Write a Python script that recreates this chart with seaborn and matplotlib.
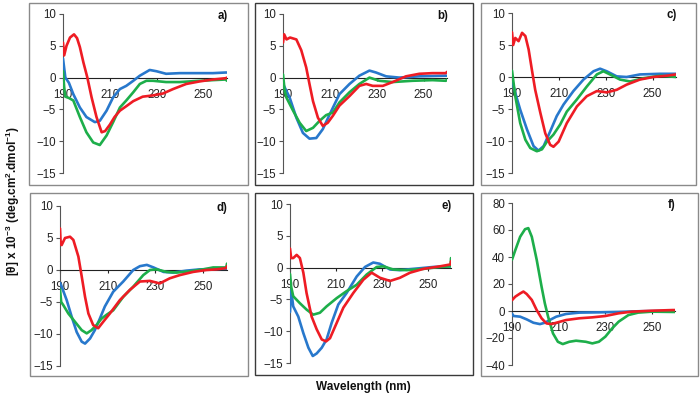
import matplotlib
matplotlib.use("Agg")
import matplotlib.pyplot as plt
import seaborn as sns
import pandas as pd
from matplotlib.patches import Rectangle

sns.set_style("white")
plt.rcParams['font.family'] = ['Liberation Sans', 'DejaVu Sans']
plt.rcParams['mathtext.fontset'] = 'custom'
plt.rcParams['mathtext.rm'] = 'Liberation Sans'
plt.rcParams['mathtext.bf'] = 'Liberation Sans:bold'

# ---------------- data ----------------
panel_labels = ["a)", "b)", "c)", "d)", "e)", "f)"]
x_ticks = [190, 210, 230, 250]
y_ticks_small = [10, 5, 0, -5, -10, -15]
y_ticks_f = [80, 60, 40, 20, 0, -20, -40]

# panel a
a_red_wl = [190, 190.5, 191.5, 193, 194.7, 196, 197.2, 198.7, 200.4, 202.2, 204.3, 206.5, 208, 210, 212, 214.3, 217, 220, 224, 228.4, 232.7, 237, 242.6, 248.3, 254, 259.4, 260]
a_red_val = [5.5, 3.5, 5.0, 6.3, 6.8, 6.2, 4.8, 2.4, 0, -3.1, -6.2, -8.6, -8.4, -7.4, -6.2, -5.2, -4.5, -3.7, -3.0, -2.8, -2.5, -1.8, -1.0, -0.6, -0.3, -0.1, 0]
a_blue_wl = [190, 191, 192.5, 194.4, 197.2, 200, 203.6, 205.7, 208.6, 211.4, 214.3, 217, 220, 222.8, 227, 229.9, 234, 239.8, 248.3, 254, 259.4, 260]
a_blue_val = [3.0, 0.0, -0.8, -2.6, -4.7, -6.2, -7.0, -6.8, -5.2, -3.1, -1.8, -1.3, -0.5, 0.3, 1.2, 1.0, 0.6, 0.7, 0.7, 0.7, 0.8, 0.8]
a_green_wl = [190, 190.5, 191, 192.5, 194.4, 197.2, 200, 202.9, 205.7, 208.6, 211.4, 214.3, 217, 220, 222.8, 225.6, 228.4, 234, 239.8, 248.3, 259.4, 260]
a_green_val = [1.0, -1.5, -3.0, -3.2, -3.6, -6.2, -8.6, -10.2, -10.6, -9.1, -7.0, -4.7, -3.6, -2.3, -1.0, -0.5, -0.5, -0.7, -0.7, -0.5, -0.3, -0.5]

# panel b
b_red_wl = [190, 190.5, 191.5, 193, 195.7, 197.8, 199.9, 201.3, 202.8, 204.9, 207, 209.1, 211.3, 214.1, 218.4, 222.6, 225.5, 228.3, 232.6, 236.8, 242.5, 248.2, 253.8, 259.5, 260]
b_red_val = [5.5, 6.8, 6.0, 6.3, 6.0, 4.3, 1.6, -1.0, -3.7, -6.3, -7.6, -7.1, -6.0, -4.4, -2.9, -1.3, -1.0, -1.3, -1.3, -0.7, 0.2, 0.6, 0.7, 0.7, 0.9]
b_blue_wl = [190, 192.8, 195.7, 198.5, 201.3, 204.2, 207, 209.9, 214.1, 218.4, 222.6, 226.9, 229.7, 234, 239.6, 248.2, 259.5, 260]
b_blue_val = [-1.0, -3.1, -6.3, -8.7, -9.6, -9.5, -8.1, -5.8, -2.6, -1.0, 0.3, 1.1, 0.8, 0.2, 0.0, 0.2, 0.3, 0.3]
b_green_wl = [190, 190.7, 191.4, 194.3, 197.1, 199.9, 202.8, 205.6, 208.4, 211.3, 214.1, 218.4, 222.6, 226.9, 231.1, 236.8, 245.3, 253.8, 259.5, 260]
b_green_val = [0.5, -2.0, -3.1, -5.2, -7.1, -8.4, -7.9, -6.8, -5.9, -5.5, -3.9, -2.3, -1.0, 0.0, -0.5, -0.7, -0.5, -0.4, -0.5, -0.3]

# panel c
c_red_wl = [190, 190.5, 191.4, 192.8, 194.3, 195.7, 197.1, 198.5, 199.9, 202.1, 204.2, 206.3, 207.7, 209.9, 213.4, 217.7, 221.9, 226.2, 230.4, 234.7, 238.9, 244.6, 250.3, 256, 260]
c_red_val = [7.0, 5.0, 6.1, 5.6, 6.9, 6.4, 4.3, 1.1, -2.0, -5.6, -8.8, -10.6, -10.9, -10.1, -7.2, -4.6, -3.0, -2.2, -2.4, -2.0, -1.2, -0.4, 0.0, 0.2, 0.4]
c_blue_wl = [190, 191.4, 193.5, 196.4, 199.2, 201.3, 203.5, 206.3, 209.1, 212, 216.2, 220.5, 224.8, 227.6, 230.4, 234.7, 238.9, 244.6, 253.1, 260]
c_blue_val = [-0.5, -2.5, -5.1, -8.2, -10.8, -11.5, -10.8, -8.5, -6.1, -4.3, -2.2, -0.4, 0.9, 1.3, 0.9, 0.1, 0.0, 0.4, 0.5, 0.5]
c_green_wl = [190, 191.4, 193.5, 195.7, 197.8, 200.6, 202.8, 204.9, 207.7, 210.6, 213.4, 217.7, 221.9, 226.2, 229, 231.8, 236.1, 240.4, 246, 253.1, 260]
c_green_val = [1.0, -3.0, -7.2, -9.8, -11.1, -11.6, -11.3, -10.1, -9.0, -7.4, -5.4, -3.5, -1.5, 0.4, 0.9, 0.4, -0.4, -0.7, -0.2, 0.2, 0.0]

# panel d
d_red_wl = [190, 190.3, 190.7, 192.1, 194.2, 195.6, 197.7, 199.1, 200.5, 201.9, 203.9, 206, 208.1, 210.9, 215.1, 219.3, 223.5, 227.7, 231.8, 236, 240.2, 245.8, 251.4, 255.6, 259.7, 260]
d_red_val = [6.5, 4.0, 3.9, 5.0, 5.2, 4.7, 2.1, -1.0, -4.2, -6.8, -8.6, -9.1, -8.1, -6.8, -4.7, -3.1, -1.8, -1.7, -2.1, -1.3, -0.8, -0.3, 0.0, 0.1, 0.3, 0.6]
d_blue_wl = [190, 190.7, 192.8, 194.9, 197, 199.1, 200.5, 202.6, 204.6, 206.7, 208.8, 212.3, 216.5, 220.7, 223.5, 226.4, 229.2, 233.4, 237.4, 243, 248.6, 259.7, 260]
d_blue_val = [-2.0, -2.6, -4.7, -7.3, -9.7, -11.2, -11.5, -10.7, -9.4, -7.6, -5.7, -3.4, -1.8, 0.0, 0.6, 0.8, 0.4, -0.3, -0.4, -0.1, 0.1, 0.2, 0.2]
d_green_wl = [190, 190.5, 191.4, 193.5, 196.3, 199.1, 201.2, 203.2, 205.3, 207.4, 209.5, 212.3, 216.5, 220.7, 224.9, 227.7, 230.5, 234.7, 238.8, 244.4, 250, 254.2, 259.7, 260]
d_green_val = [-3.0, -5.0, -5.5, -6.8, -8.1, -9.4, -9.9, -9.4, -8.6, -7.6, -7.0, -6.3, -4.2, -2.6, -0.8, 0.0, 0.1, -0.3, -0.4, -0.2, 0.1, 0.4, 0.4, 1.0]

# panel e
e_red_wl = [190, 190.5, 191.4, 192.9, 194.3, 195.8, 197.2, 199.4, 201.6, 203.8, 205.7, 207.4, 210.3, 213.2, 217.5, 221.9, 225.5, 229.1, 233.5, 237.8, 242.2, 248, 255.2, 259.8, 260]
e_red_val = [3.0, 1.5, 1.5, 2.0, 1.5, -0.8, -4.0, -7.7, -9.7, -11.3, -11.6, -11.1, -8.7, -6.3, -4.0, -1.9, -0.8, -1.6, -2.1, -1.6, -0.8, -0.2, 0.2, 0.5, 1.0]
e_blue_wl = [190, 190.5, 191.4, 193.6, 195.8, 198, 199.9, 201.6, 203.8, 205.9, 208.1, 211, 214.6, 219, 222.6, 226.2, 229.1, 233.5, 237.8, 243.6, 252.3, 260]
e_blue_val = [-7.0, -3.5, -6.1, -7.7, -10.3, -12.6, -13.9, -13.5, -12.6, -11.3, -8.7, -5.8, -4.0, -1.4, 0.1, 0.8, 0.6, -0.3, -0.4, -0.2, 0.1, 0.2]
e_green_wl = [190, 190.5, 191.4, 194.3, 197.2, 200.1, 203, 205.9, 210.3, 214.6, 219, 223.3, 227.7, 230.6, 234.9, 240.7, 248, 255.2, 259.8, 260]
e_green_val = [-1.0, -3.0, -4.5, -5.6, -6.6, -7.4, -7.1, -6.1, -4.8, -3.7, -2.7, -1.1, 0.1, 0.2, -0.3, -0.4, -0.2, 0.1, 0.2, 1.5]

# panel f
f_red_wl = [190, 191.4, 193.5, 194.9, 196.3, 198.5, 200.6, 202.7, 204.8, 207, 209, 213.2, 218.9, 224.5, 230.1, 235.8, 241.4, 249.9, 259, 260]
f_red_val = [8.0, 10.6, 13.0, 14.4, 12.6, 8.2, 0.7, -5.4, -9.2, -9.7, -8.7, -6.7, -5.4, -4.7, -3.7, -1.7, -0.5, 0.2, 0.7, 0.7]
f_blue_wl = [190, 190.7, 193.5, 196.3, 199.2, 202, 204.1, 206.2, 209, 213.2, 218.9, 227.3, 235.8, 244.2, 252.7, 260]
f_blue_val = [-2.0, -3.7, -4.2, -6.2, -8.7, -9.7, -8.7, -6.7, -4.2, -2.2, -1.2, -1.0, -0.7, -0.2, 0.0, 0.0]
f_green_wl = [190, 191.4, 193.5, 195.6, 197, 198.5, 200.6, 202.7, 204.1, 205.5, 207.6, 209.7, 211.8, 214.6, 217.5, 221.7, 224.5, 227.3, 230.1, 233, 235.8, 240, 244.2, 249.9, 259, 260]
f_green_val = [38, 45, 55, 60.6, 61.4, 55, 38, 18, 5.7, -4.2, -16.6, -22.8, -24.5, -22.8, -22.0, -22.8, -24.0, -22.8, -19.0, -12.9, -7.9, -3.0, -1.2, -0.5, -0.7, -0.7]

series_data = [
    (a_blue_wl, a_blue_val, a_green_wl, a_green_val, a_red_wl, a_red_val),
    (b_blue_wl, b_blue_val, b_green_wl, b_green_val, b_red_wl, b_red_val),
    (c_blue_wl, c_blue_val, c_green_wl, c_green_val, c_red_wl, c_red_val),
    (d_blue_wl, d_blue_val, d_green_wl, d_green_val, d_red_wl, d_red_val),
    (e_blue_wl, e_blue_val, e_green_wl, e_green_val, e_red_wl, e_red_val),
    (f_blue_wl, f_blue_val, f_green_wl, f_green_val, f_red_wl, f_red_val),
]

# ---------------- layout (pixels, top-left origin) ----------------
W, H = 700, 401
# plot areas: (x_left, x_right, y_top_px, y_bottom_px)
plot_px = [
    (63, 227, 14, 173),
    (283, 447, 14, 173),
    (512, 676, 13, 173),
    (60, 227, 206, 366),
    (290, 451, 204, 363),
    (512, 675, 203, 365),
]
# frames: (x0, x1, y0, y1, color)
box_px = [
    (29, 248, 3, 185, '#8a8a8a'),
    (255, 473, 3, 185, '#3a3a3a'),
    (481, 696, 3, 185, '#8a8a8a'),
    (30, 248, 193, 376, '#8a8a8a'),
    (255, 473, 193, 375, '#3a3a3a'),
    (481, 698, 193, 376, '#8a8a8a'),
]

palette = {"blue": "#2878CC", "green": "#1DAE4A", "red": "#EE1C24"}

fig = plt.figure(figsize=(W / 100, H / 100), dpi=100)

for (x0, x1, y0, y1, col) in box_px:
    fig.patches.append(Rectangle((x0 / W, 1 - y1 / H), (x1 - x0) / W, (y1 - y0) / H,
                                 transform=fig.transFigure, fill=False,
                                 edgecolor=col, linewidth=1.0))

for i, (px, data) in enumerate(zip(plot_px, series_data)):
    xl, xr, yt, yb = px
    ax = fig.add_axes([xl / W, 1 - yb / H, (xr - xl) / W, (yb - yt) / H])
    ax.set_facecolor('none')
    bw, bv, gw, gv, rw, rv = data
    df = pd.concat([
        pd.DataFrame({"wl": bw, "val": bv, "s": "blue"}),
        pd.DataFrame({"wl": gw, "val": gv, "s": "green"}),
        pd.DataFrame({"wl": rw, "val": rv, "s": "red"}),
    ], ignore_index=True)
    sns.lineplot(data=df, x="wl", y="val", hue="s", hue_order=["blue", "green", "red"],
                 palette=palette, estimator=None, sort=False, legend=False,
                 linewidth=1.9, ax=ax, zorder=3)
    ax.set_xlim(190, 260)
    if i == 5:
        ax.set_ylim(-40, 80)
        ax.set_yticks(y_ticks_f)
    else:
        ax.set_ylim(-15, 10)
        ax.set_yticks(y_ticks_small)
    ax.set_xticks(x_ticks)
    ax.set_xlabel("")
    ax.set_ylabel("")
    for s in ["top", "right"]:
        ax.spines[s].set_visible(False)
    ax.spines["bottom"].set_position(("data", 0))
    ax.spines["bottom"].set_color("#222222")
    ax.spines["bottom"].set_linewidth(0.8)
    ax.spines["left"].set_color("#555555")
    ax.spines["left"].set_linewidth(0.8)
    ax.spines["left"].set_zorder(1)
    ax.spines["bottom"].set_zorder(1)
    ax.tick_params(axis="y", direction="out", length=3, width=0.8, color="#555555",
                   labelsize=8.3, labelcolor="#222222", pad=2)
    ax.tick_params(axis="x", direction="out", length=2.5, width=0.8, color="#222222",
                   labelsize=8.3, labelcolor="#222222", pad=5.5)
    ax.tick_params(left=True, bottom=True)
    ax.text(1.005, 0.985, panel_labels[i], transform=ax.transAxes, ha="right", va="center",
            fontsize=8.3, fontweight="bold", color="#111111")

fig.text(13 / W, 1 - 201 / H,
         r"[θ] x 10$^{\mathbf{-3}}$ (deg.cm$^{\mathbf{2}}$.dmol$^{\mathbf{-1}}$)",
         rotation=90, ha="center", va="center", fontsize=8.5, fontweight="bold", color="#111111")
fig.text(363 / W, 1 - 387 / H, "Wavelength (nm)", ha="center", va="center",
         fontsize=8.5, fontweight="bold", color="#111111")

fig.savefig("out.png", dpi=100)
